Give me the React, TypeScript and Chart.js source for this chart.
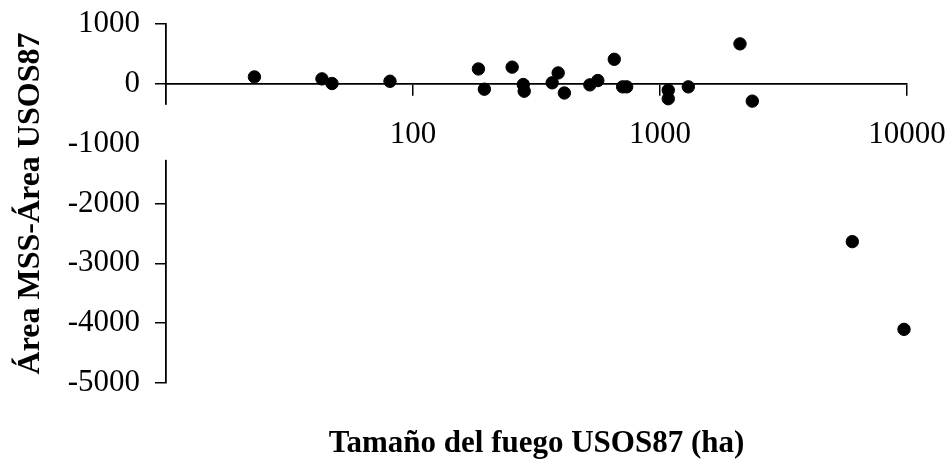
import React, { useEffect, useRef } from "react";
import { Chart, registerables } from "chart.js";

Chart.register(...registerables);

const fireSize = [22.8, 42.8, 47, 80.7, 184, 194.5, 252, 279.6, 282, 366, 387, 410, 520, 560, 653, 706, 733, 1080, 1080, 1302, 2108, 2364, 6006, 9725];
const areaDiff = [116, 83, 5, 43, 249, -90, 279, -12, -123, 17, 182, -153, -17, 55, 410, -50, -50, -106, -249, -50, 668, -289, -2637, -4103];
const xTickValues = [100, 1000, 10000];
const yMin = -5000;
const yMax = 1000;
const yStep = 1000;
const xTitle = "Tamaño del fuego USOS87 (ha)";
const yTitle = "Área MSS-Área USOS87";

const FONT = "'Liberation Serif', 'Times New Roman', serif";

const axisGap = {
  id: "axisGap",
  afterDraw(chart: any) {
    const ctx = chart.ctx;
    const y = chart.scales.y;
    const x0 = chart.chartArea.left;
    const y0 = y.getPixelForValue(0);
    ctx.save();
    ctx.fillStyle = "#ffffff";
    ctx.fillRect(x0 - 13, y0 + 21, 16, 55);
    ctx.restore();
  },
};

export default function App() {
  const ref = useRef<HTMLCanvasElement>(null);
  useEffect(() => {
    const data = fireSize.map((v, i) => ({ x: v, y: areaDiff[i] }));
    const chart = new Chart(ref.current as HTMLCanvasElement, {
      type: "scatter",
      data: {
        datasets: [
          {
            data,
            backgroundColor: "#000000",
            borderColor: "#000000",
            pointRadius: 6.2,
            pointHoverRadius: 6.2,
            clip: false,
          } as any,
        ],
      },
      plugins: [axisGap],
      options: {
        animation: false,
        responsive: false,
        layout: { padding: { top: 24, right: 43, bottom: 0, left: 0 } },
        plugins: {
          legend: { display: false },
          tooltip: { enabled: false },
          title: {
            display: true,
            text: xTitle,
            position: "bottom",
            fullSize: false,
            color: "#000000",
            font: { family: FONT, size: 31, weight: "bold", lineHeight: 1.0 },
            padding: { top: 45, bottom: 0 },
          },
        },
        scales: {
          x: {
            type: "logarithmic",
            min: 10,
            max: 10000,
            position: { y: 0 } as any,
            afterBuildTicks: (s: any) => {
              s.ticks = xTickValues.map((v) => ({ value: v }));
            },
            afterFit: (s: any) => {
              s.paddingLeft = 0;
              s.paddingRight = 0;
            },
            ticks: {
              color: "#000000",
              font: { family: FONT, size: 31 },
              padding: 21,
              maxRotation: 0,
              autoSkip: false,
              callback: (v: any) => String(v),
            },
            grid: { drawOnChartArea: false, drawTicks: true, tickLength: 11, color: "#000000", lineWidth: 1.5 },
            border: { display: true, color: "#000000", width: 1.8 },
          },
          y: {
            type: "linear",
            min: yMin,
            max: yMax,
            afterFit: (s: any) => {
              s.width = 166;
              s.paddingTop = 0;
              s.paddingBottom = 0;
            },
            ticks: {
              stepSize: yStep,
              color: "#000000",
              font: { family: FONT, size: 31 },
              padding: 15,
              callback: (v: any) => String(v),
            },
            grid: { drawOnChartArea: false, drawTicks: true, tickLength: 11, color: "#000000", lineWidth: 1.5 },
            border: { display: true, color: "#000000", width: 1.8 },
            title: {
              display: true,
              text: yTitle,
              color: "#000000",
              font: { family: FONT, size: 32, weight: "bold" },
              padding: { top: 12, bottom: 0 },
            },
          },
        },
      },
    });
    return () => chart.destroy();
  }, []);
  return (
    <div style={{ position: "absolute", left: 0, top: 0, width: 950, height: 459, background: "#fff" }}>
      <canvas ref={ref} width={950} height={459} />
    </div>
  );
}
